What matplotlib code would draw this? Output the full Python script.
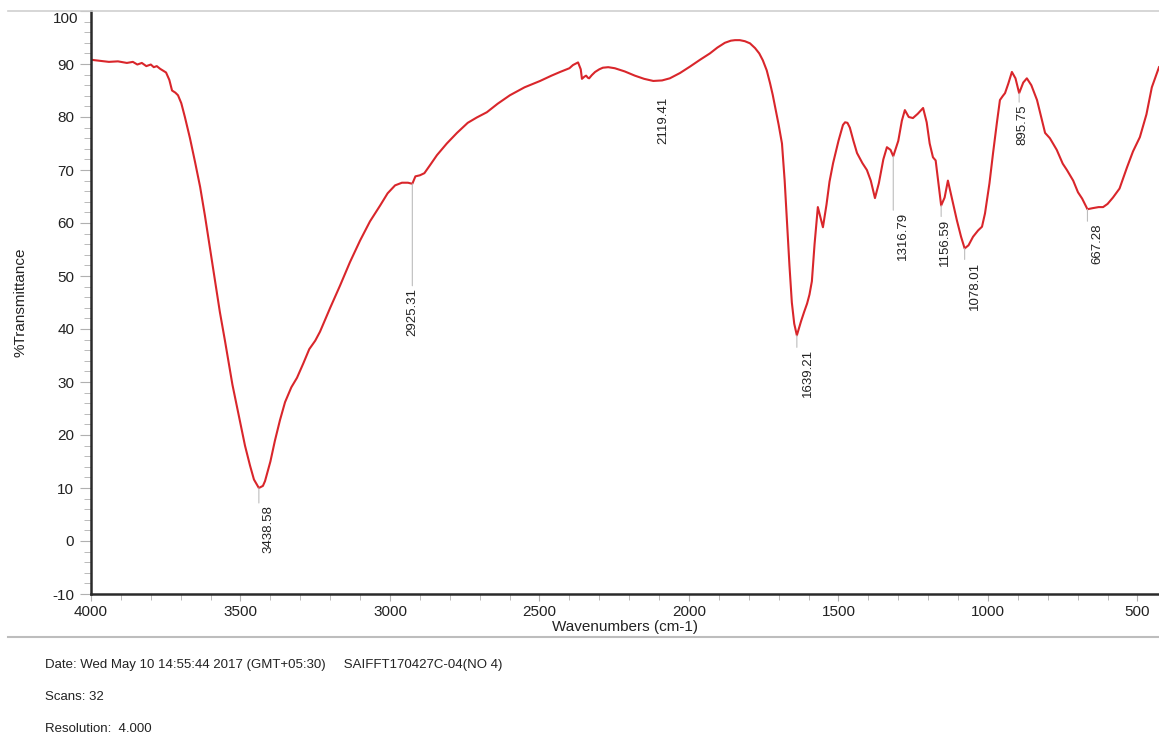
import numpy as np
import matplotlib.pyplot as plt
from matplotlib.ticker import MultipleLocator, FixedLocator, FixedFormatter
from matplotlib.lines import Line2D

plt.rcParams['font.family'] = ['Liberation Sans', 'DejaVu Sans']
plt.rcParams['axes.unicode_minus'] = False

# spectrum (wavenumber, %T)
wavenumber = [4000, 3970, 3940, 3910, 3880, 3860, 3845, 3830, 3815, 3800, 3790, 3780,
              3769, 3749, 3738, 3729, 3718, 3709, 3698, 3686, 3669, 3652, 3635, 3619,
              3602, 3585, 3569, 3552, 3527, 3502, 3485, 3468, 3455, 3438.58, 3425, 3418,
              3400, 3385, 3368, 3351, 3330, 3311, 3290, 3270, 3250, 3234, 3200, 3167,
              3134, 3100, 3067, 3033, 3008, 2983, 2960, 2940, 2925.31, 2915, 2900, 2885,
              2865, 2843, 2810, 2776, 2740, 2710, 2676, 2640, 2599, 2550, 2498, 2460,
              2431, 2400, 2388, 2371, 2362, 2358, 2350, 2344, 2338, 2334, 2325, 2314,
              2300, 2288, 2270, 2248, 2215, 2181, 2150, 2119.41, 2090, 2064, 2030, 1997,
              1963, 1930, 1905, 1880, 1860, 1846, 1830, 1813, 1796, 1779, 1765, 1753,
              1740, 1729, 1720, 1712, 1700, 1689, 1680, 1672, 1664, 1656, 1648, 1639.21,
              1625, 1615, 1605, 1597, 1589, 1580, 1569, 1560, 1552, 1540, 1530, 1518,
              1500, 1485, 1478, 1470, 1462, 1450, 1438, 1420, 1405, 1392, 1378, 1365,
              1350, 1338, 1326, 1316.79, 1300, 1288, 1278, 1265, 1251, 1235, 1217, 1205,
              1195, 1184, 1175, 1156.59, 1145, 1134, 1120, 1104, 1090, 1078.01, 1065,
              1050, 1033, 1020, 1010, 995, 983, 970, 960, 950, 943, 932, 920, 908,
              895.75, 882, 870, 855, 836, 820, 809, 793, 770, 750, 736, 715, 699,
              685, 667.28, 650, 630, 615, 600, 582, 560, 535, 515, 492, 470, 452, 440, 428]
transmittance = [90.8, 90.6, 90.4, 90.5, 90.2, 90.4, 89.9, 90.2, 89.6, 89.9, 89.4, 89.6,
                 89.1, 88.4, 87.0, 85.0, 84.6, 84.1, 82.6, 80.0, 76.0, 71.5, 66.8, 61.4,
                 55.2, 49.0, 43.2, 37.8, 29.5, 22.7, 18.0, 14.2, 11.6, 10.0, 10.4, 11.3,
                 15.0, 18.9, 22.8, 26.2, 29.0, 30.8, 33.5, 36.2, 37.8, 39.5, 44.0, 48.2,
                 52.6, 56.7, 60.3, 63.3, 65.6, 67.1, 67.6, 67.6, 67.4, 68.8, 69.0, 69.4,
                 71.0, 72.8, 75.0, 77.0, 78.9, 79.9, 80.9, 82.5, 84.1, 85.6, 86.8, 87.8,
                 88.5, 89.2, 89.8, 90.3, 89.0, 87.2, 87.6, 87.8, 87.4, 87.3, 87.9, 88.5,
                 89.0, 89.3, 89.4, 89.2, 88.6, 87.8, 87.2, 86.8, 86.9, 87.3, 88.3, 89.5,
                 90.8, 92.0, 93.1, 94.0, 94.4, 94.5, 94.5, 94.3, 93.9, 93.0, 92.0, 90.7,
                 88.8, 86.4, 84.2, 81.9, 78.5, 75.0, 68.0, 60.0, 52.0, 45.0, 41.0, 38.8,
                 41.5, 43.2, 44.8, 46.5, 49.0, 56.0, 63.0, 61.0, 59.2, 63.5, 67.8, 71.3,
                 75.5, 78.5, 79.0, 78.9, 78.0, 75.5, 73.2, 71.3, 70.0, 68.0, 64.7, 67.5,
                 72.0, 74.3, 73.8, 72.6, 75.5, 79.3, 81.3, 80.0, 79.8, 80.6, 81.7, 79.0,
                 75.0, 72.4, 71.8, 63.3, 64.8, 68.0, 64.5, 60.5, 57.4, 55.2, 55.8,
                 57.4, 58.6, 59.3, 61.8, 67.5, 73.2, 79.0, 83.2, 84.0, 84.5, 86.3, 88.5,
                 87.3, 84.5, 86.5, 87.3, 86.0, 83.2, 79.5, 77.0, 76.0, 73.8, 71.2, 70.0,
                 68.0, 65.8, 64.6, 62.6, 62.8, 63.0, 63.0, 63.6, 64.8, 66.5, 70.5, 73.5,
                 76.2, 80.5, 85.6, 87.5, 89.4]

peak_labels = ['3438.58', '2925.31', '2119.41', '1639.21', '1316.79',
               '1156.59', '1078.01', '895.75', '667.28']
peak_wn = [3438.58, 2925.31, 2119.41, 1639.21, 1316.79, 1156.59, 1078.01, 895.75, 667.28]
peak_t = [10.0, 67.4, 86.8, 38.8, 72.6, 63.3, 55.2, 84.5, 62.6]

y_ticks = [-10, 0, 10, 20, 30, 40, 50, 60, 70, 80, 90, 100]

footer = ['Date: Wed May 10 14:55:44 2017 (GMT+05:30)     SAIFFT170427C-04(NO 4)',
          'Scans: 32',
          'Resolution:  4.000']

fig = plt.figure(figsize=(11.59, 7.49), dpi=100)
ax = fig.add_axes([91/1159, 1 - 594/749, (1159 - 91)/1159, (594 - 11)/749])

ax.plot(wavenumber, transmittance, color='#d9262b', lw=1.5)

ax.set_xlim(4000, 428)
ax.set_ylim(-10, 100)

ax.xaxis.set_major_locator(MultipleLocator(500))
ax.xaxis.set_minor_locator(MultipleLocator(100))
ax.yaxis.set_major_locator(FixedLocator(y_ticks))
# the top label is drawn a little lower by hand, like the instrument printout
ax.yaxis.set_major_formatter(FixedFormatter([str(v) if v != 100 else '' for v in y_ticks]))
ax.yaxis.set_minor_locator(MultipleLocator(2))

ax.tick_params(which='both', color='#b0b0b0', labelcolor='#222222', labelsize=11)
ax.tick_params(axis='y', which='major', length=8, pad=4)
ax.tick_params(axis='y', which='minor', length=5)
ax.tick_params(axis='x', which='major', length=5, pad=3)
ax.tick_params(axis='x', which='minor', length=4)

fig.text(78/1159, 1 - 19/749, '100', fontsize=11, color='#222222', ha='right', va='center')

for s in ['top', 'right']:
    ax.spines[s].set_visible(False)
ax.spines['left'].set_color('#2a2a2a')
ax.spines['bottom'].set_color('#2a2a2a')
ax.spines['left'].set_linewidth(1.8)
ax.spines['bottom'].set_linewidth(1.8)

ax.set_xlabel('Wavenumbers (cm-1)', fontsize=11, color='#222222', labelpad=1)
ax.set_ylabel('%Transmittance', fontsize=11, color='#222222', labelpad=18)

# peak labels: (dx, dy) offsets in pixels from the peak to the label top
label_offsets = [(10, -17), (0, -104), (10, -16), (11, -14), (10, -56),
                 (4, -13), (10, -13), (3, -11), (10, -14)]
for lab, x, y, (dx, dy) in zip(peak_labels, peak_wn, peak_t, label_offsets):
    ax.annotate(lab, xy=(x, y), xytext=(dx, dy), textcoords='offset pixels',
                rotation=90, ha='center', va='top', fontsize=9.5, color='#222222')
    if lab != '2119.41':
        ax.annotate('', xy=(x, y), xytext=(0, dy + 2), textcoords='offset pixels',
                    arrowprops=dict(arrowstyle='-', color='#bdbdbd', lw=0.8,
                                    shrinkA=0, shrinkB=0))

# frame lines of the report page
fig.add_artist(Line2D([8/1159, 1], [1 - 11/749, 1 - 11/749], color='#cfcfcf', lw=1.2))
fig.add_artist(Line2D([8/1159, 1], [1 - 637/749, 1 - 637/749], color='#bdbdbd', lw=1.5))

for i, line in enumerate(footer):
    fig.text(45/1159, 1 - (665 + 32*i)/749, line, fontsize=9.5, color='#222222',
             va='center', ha='left')

fig.savefig('out.png', dpi=100)
